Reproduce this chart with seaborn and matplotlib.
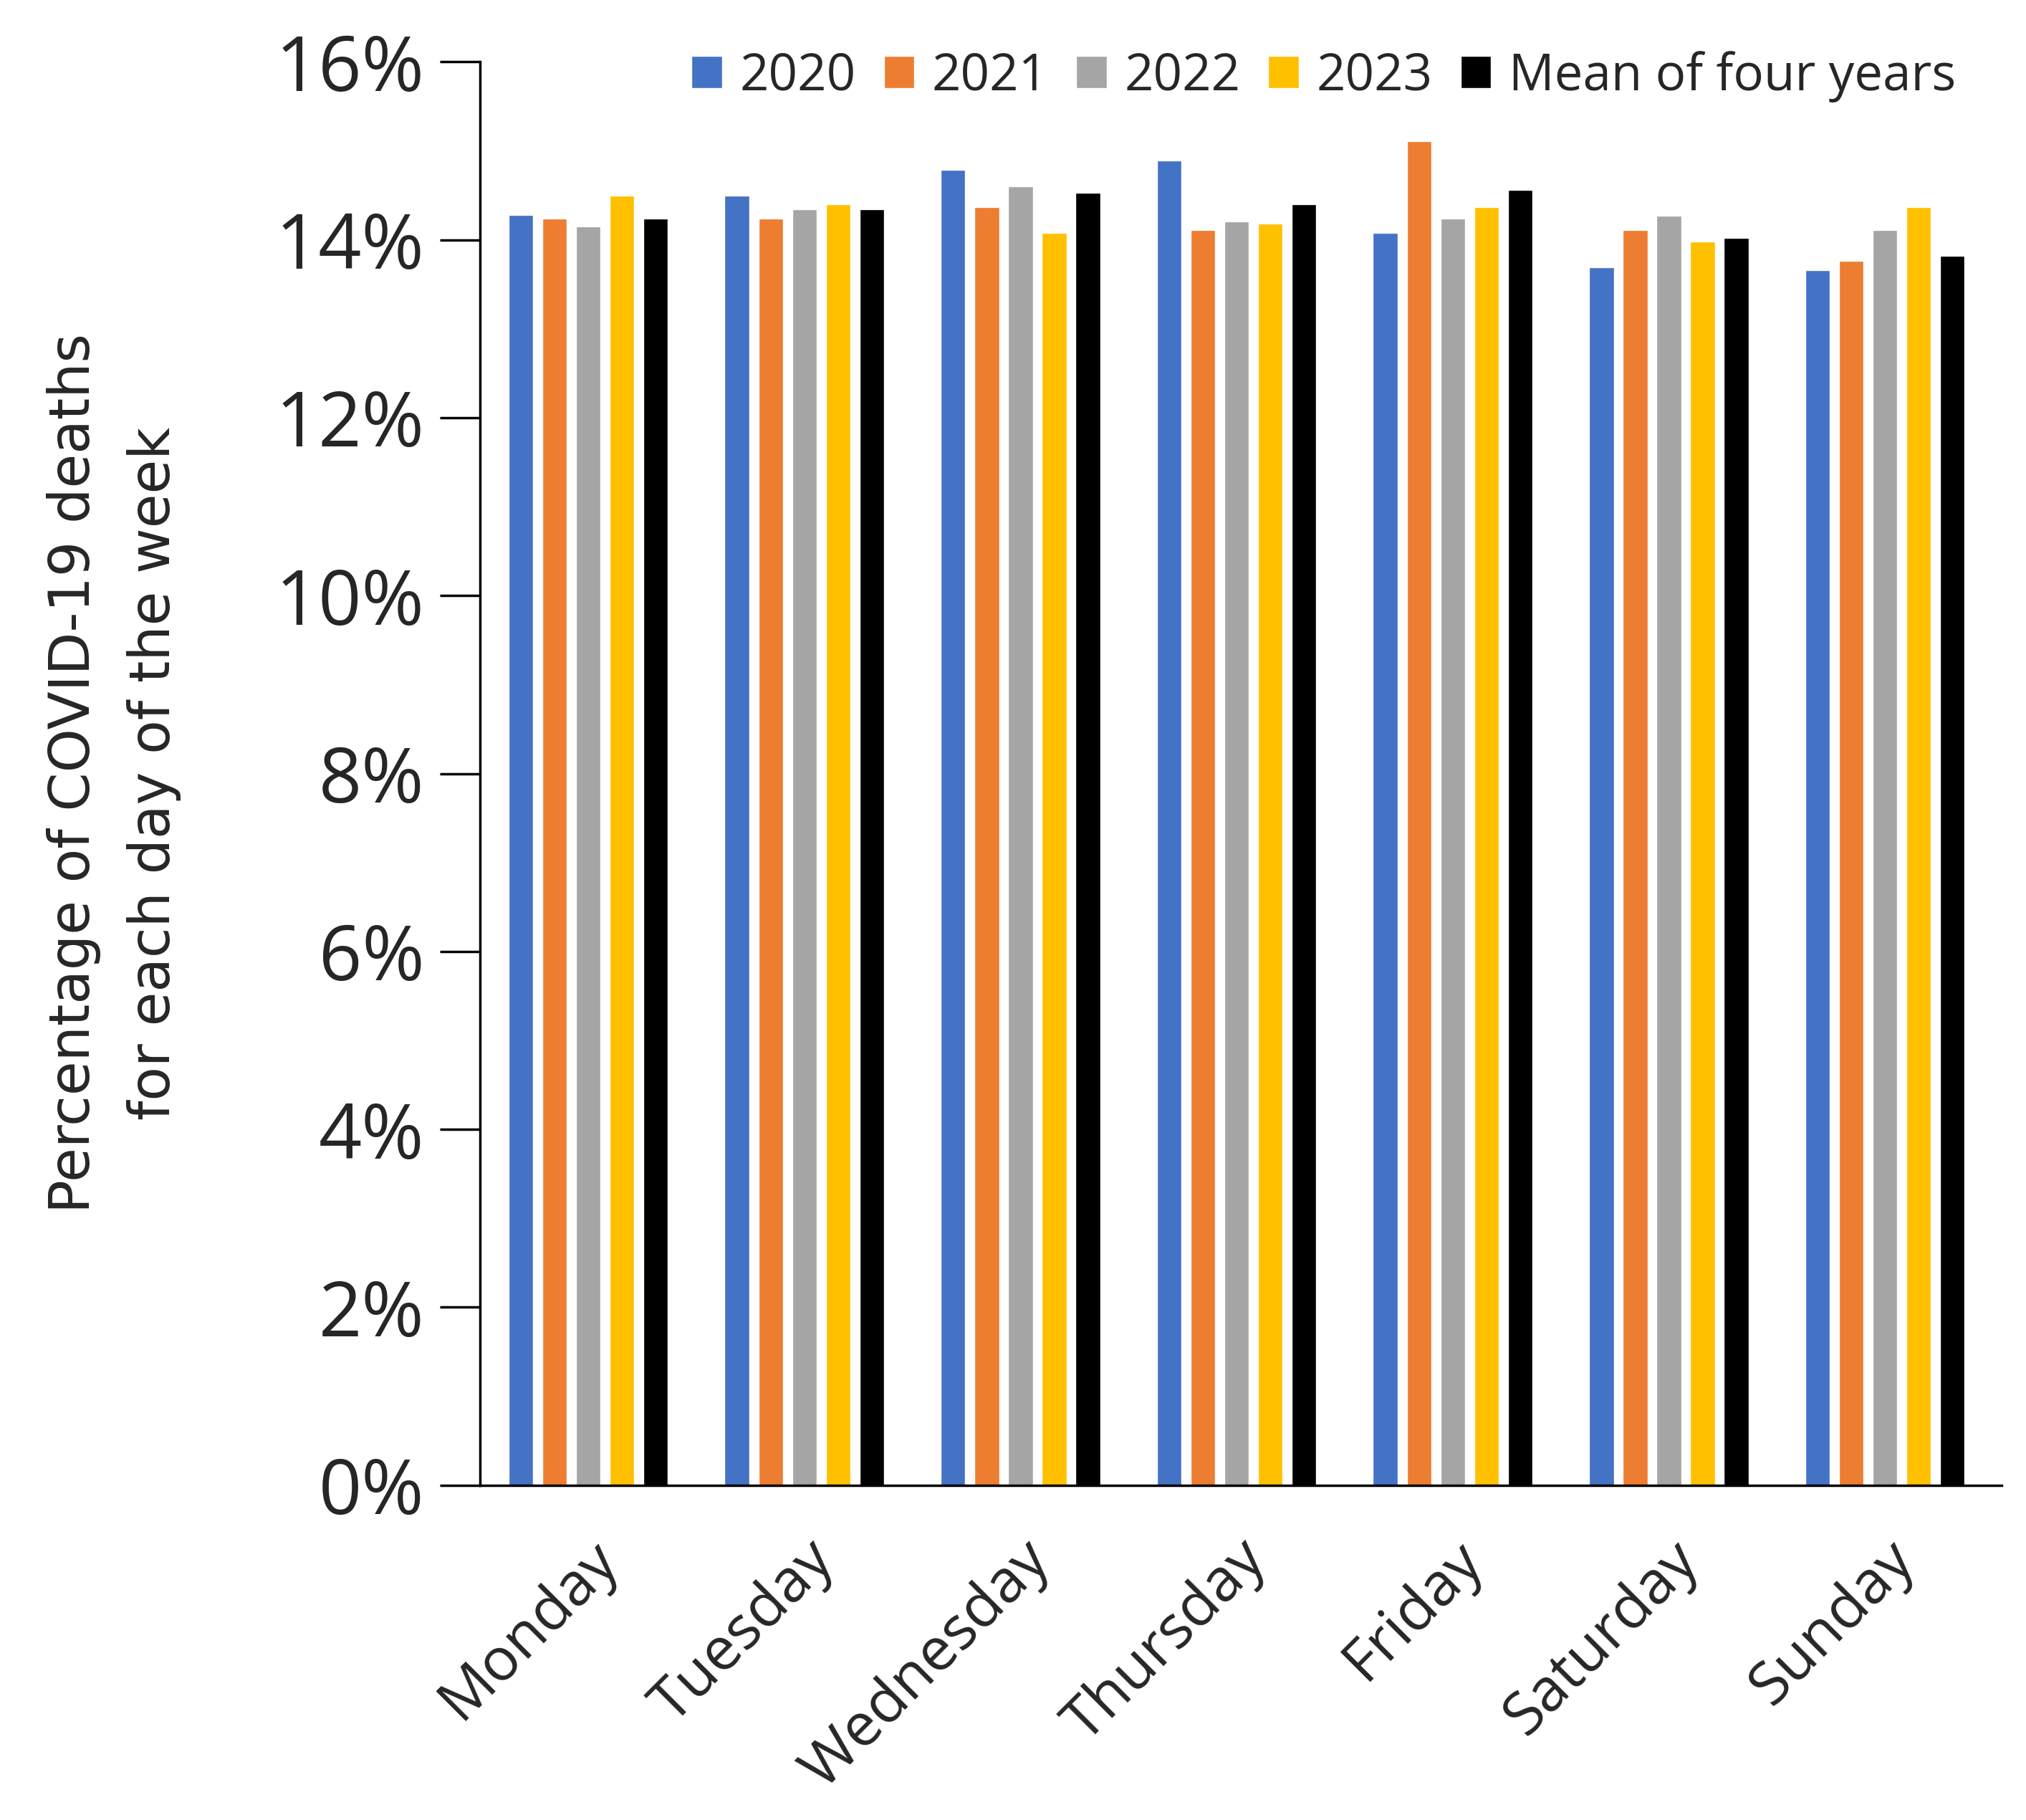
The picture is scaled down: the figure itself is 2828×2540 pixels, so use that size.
import numpy as np
import pandas as pd
import seaborn as sns
from matplotlib import pyplot as plt

days = ["Monday", "Tuesday", "Wednesday", "Thursday", "Friday", "Saturday", "Sunday"]
y2020 = [14.28, 14.50, 14.79, 14.89, 14.08, 13.69, 13.66]
y2021 = [14.24, 14.24, 14.37, 14.11, 15.11, 14.11, 13.76]
y2022 = [14.15, 14.34, 14.60, 14.21, 14.24, 14.27, 14.11]
y2023 = [14.50, 14.40, 14.08, 14.18, 14.37, 13.98, 14.37]
mean4 = [14.24, 14.34, 14.53, 14.40, 14.56, 14.02, 13.82]
series = ["2020", "2021", "2022", "2023", "Mean of four years"]
colors = ["#4472C4", "#ED7D31", "#A5A5A5", "#FFC000", "#000000"]

df = pd.DataFrame({"day": days * 5,
                   "pct": y2020 + y2021 + y2022 + y2023 + mean4,
                   "series": [s for s in series for _ in days]})

sns.set_style("white")
plt.rcParams["font.family"] = ["Open Sans", "DejaVu Sans"]

fig = plt.figure(figsize=(28.28, 25.40), dpi=100)
ax = fig.add_axes([0.237, 0.184, 0.751, 0.782])
sns.barplot(data=df, x="day", y="pct", hue="series", palette=colors,
            width=0.78, gap=0.27, saturation=1, ax=ax)

ax.set_ylim(0, 16)
ax.set_xlim(-0.5, 6.54)
ax.set_yticks(np.arange(0, 17, 2))
ax.set_yticklabels([f"{int(v)}%" for v in np.arange(0, 17, 2)], fontsize=76)
ax.set_xticks(range(len(days)))
ax.set_xticklabels(days, fontsize=60, rotation=45, ha="right", rotation_mode="anchor")
ax.tick_params(axis="y", length=40, width=2.5, direction="out", pad=16, color="black", left=True)
ax.tick_params(axis="x", length=0, pad=45)
for s in ["top", "right"]:
    ax.spines[s].set_visible(False)
for s in ["left", "bottom"]:
    ax.spines[s].set_color("black")
    ax.spines[s].set_linewidth(2.5)

ax.set_xlabel("")
ax.set_ylabel("Percentage of COVID-19 deaths\nfor each day of the week", fontsize=56,
              family=["Liberation Sans Narrow", "DejaVu Sans"], labelpad=95, linespacing=1.6)

ax.legend(loc="upper right", bbox_to_anchor=(1.0, 1.04), ncol=5, frameon=False,
          fontsize=51, handlelength=0.6, handleheight=0.6, handletextpad=0.35,
          columnspacing=0.55)

plt.savefig("out.png")
